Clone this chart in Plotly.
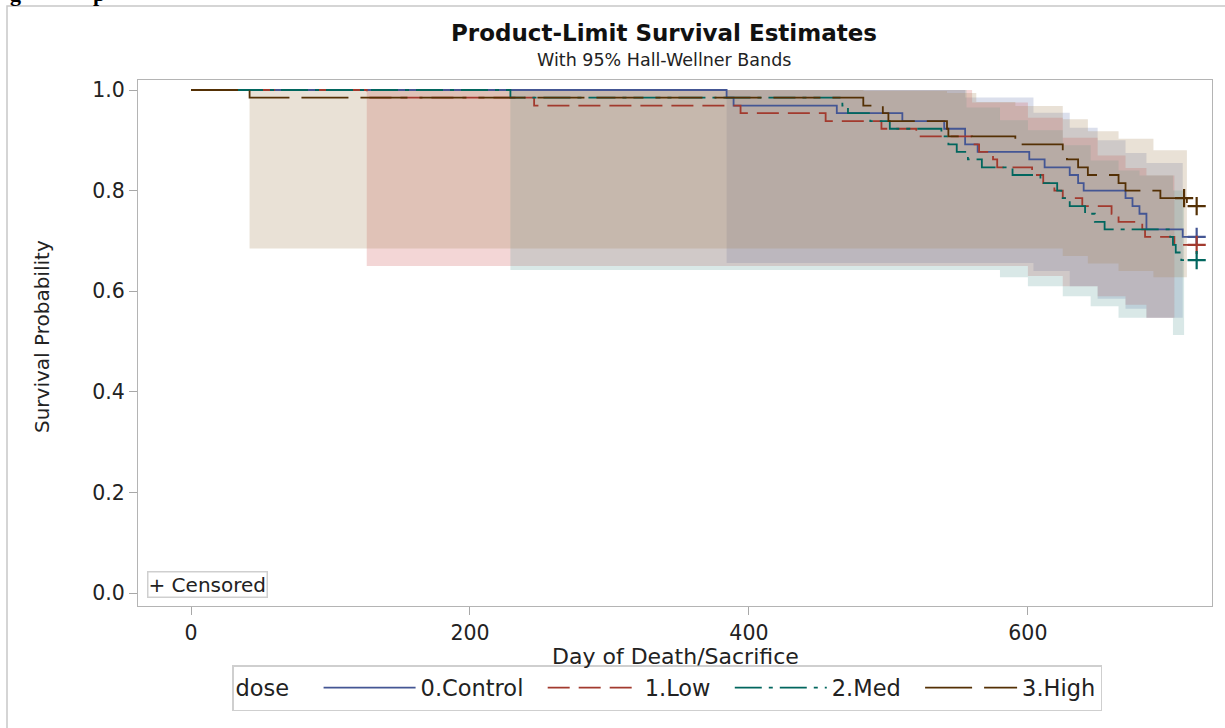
import plotly.graph_objects as go

# ---------------- data ----------------
groups = ["0.Control", "1.Low", "2.Med", "3.High"]

control_t = [0, 384, 389, 463, 510, 540, 555, 564, 601, 612, 630, 636, 640, 670, 675, 680, 685, 711, 721]
control_s = [1.0, 0.985, 0.969, 0.954, 0.938, 0.923, 0.892, 0.877, 0.862, 0.846, 0.831, 0.815, 0.800, 0.785, 0.769, 0.754, 0.723, 0.708, 0.708]

low_t = [0, 126, 246, 394, 455, 495, 520, 560, 565, 575, 578, 603, 611, 619, 625, 639, 660, 665, 682, 684, 705, 721]
low_s = [1.0, 0.985, 0.969, 0.954, 0.938, 0.923, 0.908, 0.892, 0.877, 0.862, 0.846, 0.831, 0.815, 0.800, 0.785, 0.769, 0.754, 0.738, 0.723, 0.708, 0.692, 0.692]

med_t = [0, 229, 467, 471, 487, 501, 538, 543, 549, 557, 567, 589, 609, 621, 624, 630, 641, 648, 655, 702, 704, 706, 710, 721]
med_s = [1.0, 0.985, 0.969, 0.954, 0.938, 0.923, 0.908, 0.892, 0.877, 0.862, 0.846, 0.831, 0.815, 0.800, 0.785, 0.769, 0.754, 0.738, 0.723, 0.708, 0.692, 0.677, 0.662, 0.662]

high_t = [0, 42, 482, 496, 500, 542, 543, 591, 625, 628, 636, 643, 665, 670, 695, 714, 721]
high_s = [1.0, 0.985, 0.969, 0.954, 0.938, 0.923, 0.908, 0.892, 0.877, 0.862, 0.846, 0.831, 0.815, 0.800, 0.785, 0.769, 0.769]

# censored observations
control_cens_t = [721]; control_cens_s = [0.708]
low_cens_t = [721];     low_cens_s = [0.692]
med_cens_t = [721];     med_cens_s = [0.662]
high_cens_t = [712, 721]; high_cens_s = [0.785, 0.769]

# Hall-Wellner bands
control_band_t = [384, 510, 555, 604, 630, 650, 670, 685, 711]
control_band_lo = [0.656, 0.656, 0.656, 0.640, 0.610, 0.585, 0.565, 0.547, 0.547]
control_band_hi = [1.0, 1.0, 0.985, 0.955, 0.925, 0.900, 0.875, 0.855, 0.855]

low_band_t = [126, 495, 560, 600, 625, 650, 670, 685, 705]
low_band_lo = [0.650, 0.650, 0.650, 0.630, 0.610, 0.590, 0.573, 0.547, 0.547]
low_band_hi = [1.0, 1.0, 0.975, 0.945, 0.905, 0.870, 0.845, 0.830, 0.830]

med_band_t = [229, 501, 556, 580, 600, 625, 645, 665, 680, 704, 712]
med_band_lo = [0.642, 0.642, 0.642, 0.628, 0.610, 0.590, 0.570, 0.547, 0.547, 0.513, 0.513]
med_band_hi = [1.0, 1.0, 0.965, 0.940, 0.920, 0.890, 0.860, 0.840, 0.830, 0.800, 0.800]

high_band_t = [42, 482, 542, 563, 591, 625, 643, 665, 690, 714]
high_band_lo = [0.685, 0.685, 0.685, 0.685, 0.685, 0.670, 0.655, 0.640, 0.628, 0.628]
high_band_hi = [1.0, 0.998, 0.994, 0.976, 0.968, 0.942, 0.918, 0.903, 0.880, 0.880]

x_ticks = [0, 200, 400, 600]
y_ticks = [0.0, 0.2, 0.4, 0.6, 0.8, 1.0]

# ---------------- style ----------------
line_colors = ["#445694", "#A23A2E", "#01665E", "#543005"]
fill_colors = ["rgba(111,126,179,0.25)", "rgba(208,91,91,0.25)",
               "rgba(102,165,160,0.25)", "rgba(169,134,91,0.25)"]
dashes = ["solid", "22px,9px", "27px,7px,4px,7px", "47px,12px"]
FONT = "DejaVu Sans, Arial, sans-serif"
NB = "\u00a0"

curves = [(control_t, control_s), (low_t, low_s), (med_t, med_s), (high_t, high_s)]
cens = [(control_cens_t, control_cens_s), (low_cens_t, low_cens_s),
        (med_cens_t, med_cens_s), (high_cens_t, high_cens_s)]
bands = [(control_band_t, control_band_lo, control_band_hi),
         (low_band_t, low_band_lo, low_band_hi),
         (med_band_t, med_band_lo, med_band_hi),
         (high_band_t, high_band_lo, high_band_hi)]

fig = go.Figure()

# bands
for i, (bt, blo, bhi) in enumerate(bands):
    fig.add_trace(go.Scatter(x=bt, y=blo, mode="lines", line=dict(width=0, shape="hv"),
                             showlegend=False, hoverinfo="skip"))
    fig.add_trace(go.Scatter(x=bt, y=bhi, mode="lines", line=dict(width=0, shape="hv"),
                             fill="tonexty", fillcolor=fill_colors[i],
                             showlegend=False, hoverinfo="skip"))

# survival curves
for i, (t, s) in enumerate(curves):
    label = groups[i] + (NB * 2 if i < len(groups) - 1 else "")
    fig.add_trace(go.Scatter(x=t, y=s, mode="lines", name=label,
                             line=dict(color=line_colors[i], width=1.8, shape="hv", dash=dashes[i])))

# censored markers
for i, (t, s) in enumerate(cens):
    fig.add_trace(go.Scatter(x=t, y=s, mode="markers", showlegend=False,
                             marker=dict(symbol="cross-thin", size=13,
                                         line=dict(color=line_colors[i], width=2.2))))

# ---------------- layout ----------------
W, H = 1225, 728
L, R, T, B = 138, 1212, 80, 606
pw, ph = R - L, B - T

def px(xp):
    return (xp - L) / pw

def py(yp):
    return (B - yp) / ph

axis_common = dict(showline=True, mirror=True, linecolor="#b4b4b4", linewidth=1.3,
                   ticks="outside", ticklen=8, tickcolor="#a8a8a8", tickwidth=1.3,
                   showgrid=False, zeroline=False,
                   tickfont=dict(family=FONT, size=20.5, color="#222"))

fig.update_layout(
    width=W, height=H,
    margin=dict(l=L, r=W - R, t=T, b=H - B, autoexpand=False),
    paper_bgcolor="white", plot_bgcolor="white",
    xaxis=dict(range=[-38, 732], tickvals=x_ticks, **axis_common),
    yaxis=dict(range=[-0.0258, 1.0199], tickvals=y_ticks, tickformat=".1f", **axis_common),
    legend=dict(orientation="h", x=px(232), xanchor="left", y=py(665), yanchor="top",
                traceorder="normal",
                bordercolor="#cfcfcf", borderwidth=1.5, bgcolor="white",
                font=dict(family=FONT, size=22.5, color="#222"),
                title=dict(text="dose" + NB * 3, font=dict(family=FONT, size=22.5, color="#222")),
                itemwidth=92),
    showlegend=True,
)

annotations = [
    dict(text="<b>Product-Limit Survival Estimates</b>", x=px(664), y=py(48), yanchor="bottom",
         font=dict(family=FONT, size=23, color="#111")),
    dict(text="With 95% Hall-Wellner Bands", x=px(664), y=py(48), yanchor="top",
         font=dict(family=FONT, size=17.5, color="#222")),
    dict(text="Day of Death/Sacrifice", x=px(675), y=py(657),
         font=dict(family=FONT, size=22, color="#222")),
    dict(text="Survival Probability", x=px(42), y=py(337), textangle=-90,
         font=dict(family=FONT, size=20, color="#222")),
    dict(text="+ Censored", x=px(147), y=py(598), xanchor="left", yanchor="bottom",
         bordercolor="#cfcfcf", borderwidth=1.5, borderpad=0, bgcolor="white",
         font=dict(family=FONT, size=20, color="#222")),
    dict(text="<b>g</b>", x=px(15), y=py(8), yanchor="bottom",
         font=dict(family="Liberation Serif", size=22, color="#000")),
    dict(text="<b>p</b>", x=px(99), y=py(8), yanchor="bottom",
         font=dict(family="Liberation Serif", size=22, color="#000")),
]
for a in annotations:
    a.setdefault("xanchor", "center")
    a.setdefault("yanchor", "middle")
    a.update(xref="paper", yref="paper", showarrow=False)
fig.update_layout(annotations=annotations)

fig.add_shape(type="rect", xref="paper", yref="paper",
              x0=px(7), x1=px(1260), y0=py(760), y1=py(6),
              line=dict(color="#c8c8c8", width=1.5), layer="above")

fig.write_html("out.html")
